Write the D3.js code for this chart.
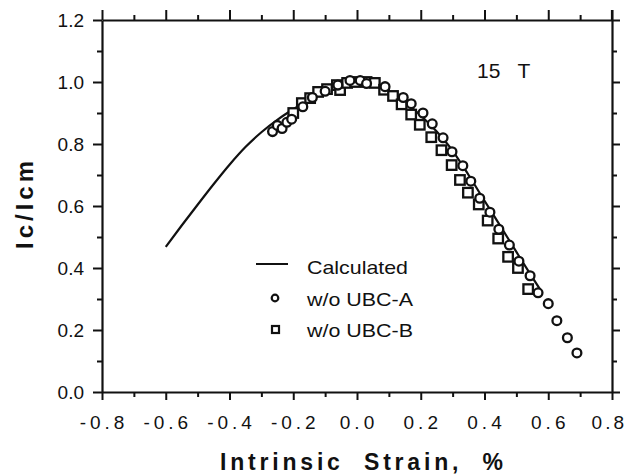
<!DOCTYPE html>
<html><head><meta charset="utf-8">
<script src="https://cdn.jsdelivr.net/npm/d3@7"></script>
<style>body{margin:0;background:#fff}svg{display:block}text{font-family:"Liberation Sans",Arial,Helvetica,sans-serif;fill:#111}</style>
</head><body>
<svg id="c" width="628" height="475"></svg>
<script>
// Data
const calcX = [-0.6,-0.55,-0.5,-0.45,-0.4,-0.35,-0.3,-0.25,-0.2,-0.15,-0.1,-0.05,0.0,0.05,0.1,0.15,0.2,0.25,0.3,0.35,0.4,0.45,0.5,0.55,0.575];
const calcY = [0.468,0.537,0.604,0.67,0.733,0.79,0.838,0.878,0.912,0.942,0.966,0.985,0.996,0.99,0.966,0.934,0.892,0.84,0.778,0.70,0.617,0.535,0.452,0.37,0.33];
const ubcAX = [-0.265,-0.25,-0.235,-0.22,-0.205,-0.17,-0.14,-0.10,-0.06,-0.022,0.01,0.03,0.088,0.145,0.17,0.207,0.236,0.27,0.298,0.332,0.357,0.385,0.417,0.445,0.478,0.508,0.543,0.568,0.60,0.627,0.66,0.69];
const ubcAY = [0.84,0.86,0.85,0.87,0.88,0.92,0.95,0.97,0.99,1.005,1.005,0.995,0.985,0.95,0.93,0.90,0.865,0.82,0.775,0.73,0.68,0.625,0.58,0.525,0.474,0.422,0.375,0.32,0.285,0.23,0.175,0.126];
const ubcBX = [-0.2,-0.173,-0.147,-0.122,-0.094,-0.063,-0.053,-0.031,-0.006,0.03,0.056,0.085,0.113,0.14,0.17,0.197,0.233,0.265,0.297,0.323,0.348,0.382,0.41,0.443,0.474,0.505,0.537];
const ubcBY = [0.90,0.932,0.948,0.968,0.977,0.99,0.974,0.997,1.0,1.0,0.997,0.975,0.955,0.928,0.895,0.862,0.822,0.78,0.732,0.684,0.643,0.605,0.553,0.495,0.436,0.40,0.332];
const xTicks = [-0.8,-0.6,-0.4,-0.2,0.0,0.2,0.4,0.6,0.8];
const yTicks = [0.0,0.2,0.4,0.6,0.8,1.0,1.2];
const xTickLabels = ["-0.8","-0.6","-0.4","-0.2","0.0","0.2","0.4","0.6","0.8"];
const yTickLabels = ["0.0","0.2","0.4","0.6","0.8","1.0","1.2"];
const legendLabels = ["Calculated","w/o UBC-A","w/o UBC-B"];

const svg = d3.select("#c");
const L=102, R=612, T=20, B=392;
const x = d3.scaleLinear().domain([-0.8,0.8]).range([L,R]);
const y = d3.scaleLinear().domain([0,1.2]).range([B,T]);
const ink = "#111";
const g = svg.append("g");

const minorX = d3.range(-0.7,0.8,0.2).map(v=>+v.toFixed(2));
const minorY = d3.range(0.1,1.2,0.2).map(v=>+v.toFixed(2));

function styleAxis(sel){
  sel.select(".domain").attr("stroke",ink).attr("stroke-width",2.2);
  sel.selectAll(".tick line").attr("stroke",ink).attr("stroke-width",2);
  sel.selectAll("text").remove();
}
const bAx = g.append("g").attr("transform",`translate(0,${B})`).call(d3.axisBottom(x).tickValues(xTicks).tickSize(8).tickSizeOuter(0));
styleAxis(bAx);
const tAx = g.append("g").attr("transform",`translate(0,${T})`).call(d3.axisTop(x).tickValues(xTicks).tickSize(10).tickSizeOuter(0));
styleAxis(tAx);
const lAx = g.append("g").attr("transform",`translate(${L},0)`).call(d3.axisLeft(y).tickValues(yTicks).tickSize(9).tickSizeOuter(0));
styleAxis(lAx);
const rAx = g.append("g").attr("transform",`translate(${R},0)`).call(d3.axisRight(y).tickValues(yTicks).tickSize(8).tickSizeOuter(0));
styleAxis(rAx);
[[d3.axisBottom,B,5],[d3.axisTop,T,5]].forEach(([fn,pos,s])=>{
  const a = g.append("g").attr("transform",`translate(0,${pos})`).call(fn(x).tickValues(minorX).tickSize(s).tickSizeOuter(0));
  styleAxis(a); a.select(".domain").remove();
});
[[d3.axisLeft,L,5],[d3.axisRight,R,5]].forEach(([fn,pos,s])=>{
  const a = g.append("g").attr("transform",`translate(${pos},0)`).call(fn(y).tickValues(minorY).tickSize(s).tickSizeOuter(0));
  styleAxis(a); a.select(".domain").remove();
});
g.append("line").attr("x1",R).attr("x2",R).attr("y1",T).attr("y2",T-10).attr("stroke",ink).attr("stroke-width",2.2);

// tick labels
g.selectAll(".xl").data(xTicks).enter().append("text")
  .attr("x",(d,i)=> i===xTicks.length-1 ? 627 : x(d)+2)
  .attr("y",429)
  .attr("text-anchor",(d,i)=> i===xTicks.length-1 ? "end" : "middle")
  .attr("font-size",19).attr("letter-spacing",(d,i)=> i===xTicks.length-1 ? 3 : 4)
  .text((d,i)=>xTickLabels[i]);
g.selectAll(".yl").data(yTicks).enter().append("text")
  .attr("x",84).attr("y",d=>y(d)+7).attr("text-anchor","end")
  .attr("font-size",19)
  .text((d,i)=>yTickLabels[i]);

// titles
g.append("text").attr("x",220).attr("y",470).attr("font-size",23).attr("font-weight","bold")
  .attr("textLength",283).attr("lengthAdjust","spacing")
  .attr("xml:space","preserve").text("Intrinsic  Strain,  %");
g.append("text").attr("transform","translate(33,203) rotate(-90)").attr("text-anchor","middle")
  .attr("font-size",24).attr("font-weight","bold").attr("letter-spacing",4).text("Ic/Icm");
g.append("text").attr("x",477).attr("y",78).attr("font-size",21).attr("xml:space","preserve").text("15   T");

// calculated line
const line = d3.line().x(d=>x(d[0])).y(d=>y(d[1])).curve(d3.curveMonotoneX);
g.append("path").datum(calcX.map((v,i)=>[v,calcY[i]])).attr("d",line)
  .attr("fill","none").attr("stroke",ink).attr("stroke-width",2.2);

// markers
const s = 9.5;
g.selectAll(".sq").data(ubcBX.map((v,i)=>[v,ubcBY[i]])).enter().append("rect")
  .attr("x",d=>x(d[0])-s/2).attr("y",d=>y(d[1])-s/2).attr("width",s).attr("height",s)
  .attr("fill","#fff").attr("stroke",ink).attr("stroke-width",2.3);
g.selectAll(".ci").data(ubcAX.map((v,i)=>[v,ubcAY[i]])).enter().append("circle")
  .attr("cx",d=>x(d[0])).attr("cy",d=>y(d[1])).attr("r",4.4)
  .attr("fill","#fff").attr("stroke",ink).attr("stroke-width",2.3);

// legend
g.append("line").attr("x1",256).attr("x2",288).attr("y1",264).attr("y2",264).attr("stroke",ink).attr("stroke-width",2);
g.append("circle").attr("cx",275).attr("cy",298).attr("r",3.3).attr("fill","#fff").attr("stroke",ink).attr("stroke-width",2.2);
g.append("rect").attr("x",272).attr("y",326).attr("width",7).attr("height",7).attr("fill","#fff").attr("stroke",ink).attr("stroke-width",2.2);
const lw = [101,106,106];
const ly = [274,306,337];
legendLabels.forEach((t,i)=>{
  g.append("text").attr("x",307).attr("y",ly[i]).attr("font-size",19)
   .attr("textLength",lw[i]).attr("lengthAdjust","spacingAndGlyphs").text(t);
});
</script>
</body></html>
